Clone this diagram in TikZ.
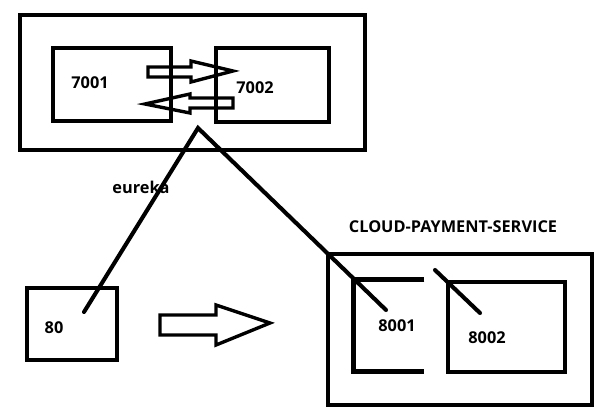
\documentclass[tikz,border=0pt]{standalone}
\usepackage{fontspec}
\setmainfont{Open Sans}
\usetikzlibrary{positioning,fit}

\begin{document}
\begin{tikzpicture}[
  x=0.025cm, y=-0.025cm,
  box/.style={
    draw,
    line width=3.3pt,
    inner sep=0pt
  },
  hidden/.style={inner sep=0pt},
  boxline/.style={line width=3.3pt},
  link/.style={line width=2.9pt, line cap=round},
  hollow/.style={draw, line width=2.4pt, line join=miter},
  num/.style={font=\bfseries\fontsize{11.6}{14}\selectfont, inner sep=0pt}
]
\useasboundingbox (0,0) rectangle (613,416);

% eureka cluster
\node[box, fit={(20,15) (365,150)}] (cluster) {};
\node[box, fit={(53,48) (171,121)}] (s7001) {};
\node[box, fit={(216,48) (329,122)}] (s7002) {};
\node[num] (t7001) at (90,83) {7001};
\node[num] (t7002) at (255,88) {7002};

% mutual registration
\draw[hollow] (148,67) -- (191,67) -- (191,61) -- (233,71) -- (191,82)
  -- (191,77) -- (148,77) -- cycle;
\draw[hollow] (233,98) -- (190,98) -- (190,94) -- (145,104) -- (190,113)
  -- (190,108) -- (233,108) -- cycle;

% consumer
\node[box, fit={(27,288) (117,360)}] (s80) {};
\node[num] (t80) at (54,328) {80};
\node[num] (eureka) at (141,187) {eureka};

% provider cluster
\node[num] (title) at (453,227) {CLOUD-PAYMENT-SERVICE};
\node[box, fit={(328,254) (592,405)}] (payment) {};
\node[hidden, fit={(354,280) (424,371)}] (s8001) {};
\draw[boxline] (s8001.north east) -- (s8001.north west) -- (s8001.south west)
  -- (s8001.south east);
\node[box, fit={(448,282) (565,372)}] (s8002) {};
\node[num] (t8001) at (397,326) {8001};
\node[num] (t8002) at (487,338) {8002};

% call from consumer to provider
\draw[hollow] (160,315) -- (216,315) -- (216,305) -- (270,323) -- (216,345)
  -- (216,335) -- (160,335) -- cycle;

% registration lines
\coordinate (apex) at (198,128);
\coordinate (end80) at (84,312);
\coordinate (end8001) at (386,310);
\coordinate (from8002) at (435,270);
\coordinate (end8002) at (480,313);
\draw[link] (end80) -- (apex) -- (end8001);
\draw[link] (from8002) -- (end8002);

\end{tikzpicture}
\end{document}
